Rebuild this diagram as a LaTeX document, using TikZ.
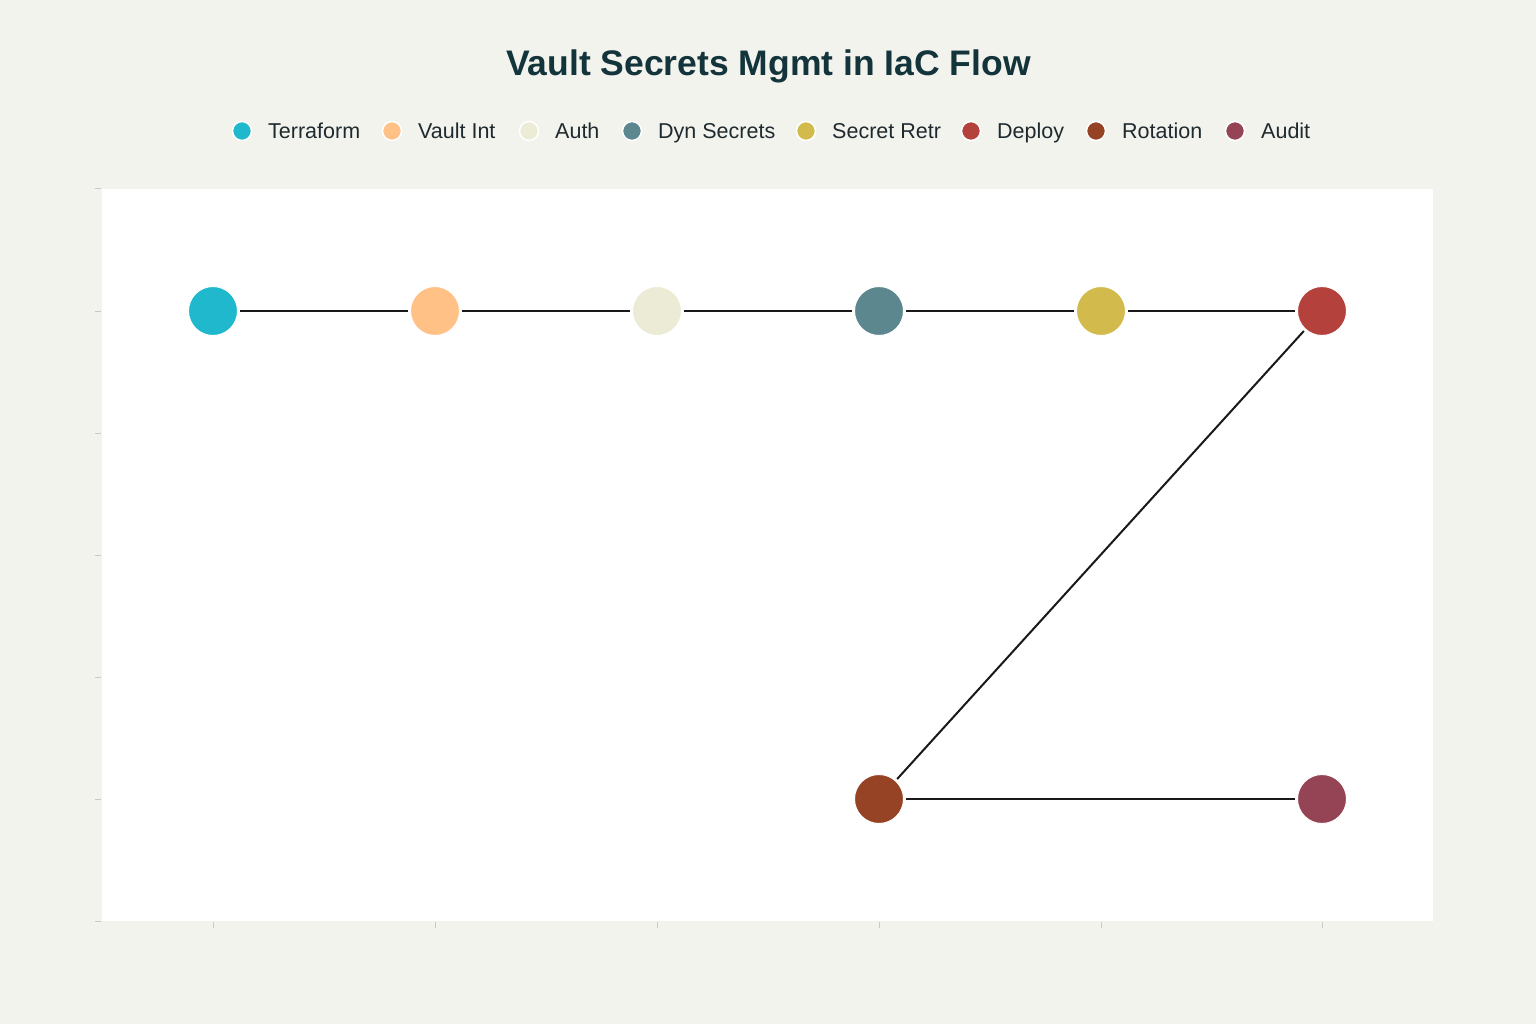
\documentclass[tikz,border=0pt]{standalone}
\usepackage{fontspec}
\setmainfont{Liberation Sans}
\definecolor{bgc}{HTML}{F3F3EE}
\definecolor{titlec}{HTML}{13343B}
\definecolor{textc}{HTML}{1F2A2E}
\definecolor{cTerra}{HTML}{1FB8CD}
\definecolor{cVault}{HTML}{FFC185}
\definecolor{cAuth}{HTML}{ECEBD5}
\definecolor{cDyn}{HTML}{5D878F}
\definecolor{cRetr}{HTML}{D2BA4C}
\definecolor{cDeploy}{HTML}{B4413C}
\definecolor{cRot}{HTML}{964325}
\definecolor{cAudit}{HTML}{944454}
\definecolor{tickc}{HTML}{C8C8C4}
\begin{document}
\begin{tikzpicture}[x=1pt,y=-1pt,
  stage/.style={circle,draw=white,line width=1pt,minimum size=49pt,inner sep=0pt,outer sep=2.5pt},
  legdot/.style={circle,draw=white,line width=1.5pt,minimum size=19pt,inner sep=0pt},
  legtxt/.style={anchor=base west,font=\fontsize{21.5}{25}\selectfont,text=textc,inner sep=0pt},
  link/.style={draw=black!90,line width=2pt},
  tick/.style={draw=tickc,line width=1pt}]
\useasboundingbox (0,0) rectangle (1536,1024);
\fill[bgc] (0,0) rectangle (1536,1024);
\fill[white] (102,189) rectangle (1433,921);
% ticks
\foreach \y in {189,311,433,555,677,799,921} \draw[tick] (95,\y) -- (101,\y);
\foreach \x in {213,435,657,879,1101,1322} \draw[tick] (\x,922) -- (\x,928);
% title
\node[font=\bfseries\fontsize{35.5}{40}\selectfont,text=titlec,anchor=base] (title) at (768.5,76) {Vault Secrets Mgmt in IaC Flow};
% legend
\foreach \c/\x/\t [count=\i] in {cTerra/242/Terraform,cVault/392/Vault Int,cAuth/529/Auth,cDyn/632/Dyn Secrets,cRetr/806/Secret Retr,cDeploy/971/Deploy,cRot/1096/Rotation,cAudit/1235/Audit}{
  \node[legdot,fill=\c] (ld\i) at (\x,131) {};
  \node[legtxt] (lt\i) at (\x+26,139) {\t};
}
% stages
\node[stage,fill=cTerra] (terra) at (213,311) {};
\node[stage,fill=cVault] (vault) at (435,311) {};
\node[stage,fill=cAuth] (auth) at (657,311) {};
\node[stage,fill=cDyn] (dyn) at (879,311) {};
\node[stage,fill=cRetr] (retr) at (1101,311) {};
\node[stage,fill=cDeploy] (deploy) at (1322,311) {};
\node[stage,fill=cRot] (rot) at (879,799) {};
\node[stage,fill=cAudit] (audit) at (1322,799) {};
% links
\draw[link] (terra) -- (vault);
\draw[link] (vault) -- (auth);
\draw[link] (auth) -- (dyn);
\draw[link] (dyn) -- (retr);
\draw[link] (retr) -- (deploy);
\draw[link] (deploy) -- (rot);
\draw[link] (rot) -- (audit);
\end{tikzpicture}
\end{document}
